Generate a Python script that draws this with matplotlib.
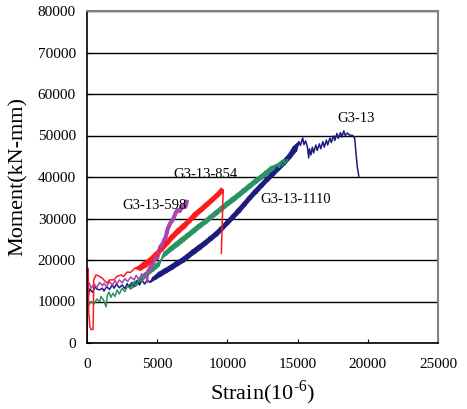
import matplotlib
matplotlib.use("Agg")
import matplotlib.pyplot as plt

# ---- data (strain in 1e-6, moment in kN-mm) ----
g13_x = [0, 30, 60, 100, 200, 400, 600, 710, 900, 1100, 1210, 1400, 1600, 1800, 1930,
         2100, 2300, 2500, 2700, 2860, 3000, 3200, 3400, 3570, 3750, 3900, 4100, 4290,
         4500, 4700, 4900, 5100, 5300, 5500, 5700, 5900, 6100, 6300, 6500, 6700, 6900,
         7100, 7300, 7500, 7700, 7900, 8100, 8300, 8500, 8700, 8900, 9100, 9300, 9500,
         9700, 9900, 10100, 10300, 10500, 10700, 10900, 11100, 11300, 11500, 11700,
         11900, 12100, 12300, 12500, 12700, 12900, 13100, 13300, 13500, 13700, 13900,
         14100, 14300, 14500, 14700, 14900, 15100, 15200, 15360, 15450, 15570, 15700,
         15790, 15850, 15950, 16050, 16140, 16300, 16400, 16550, 16650, 16800, 16900,
         17050, 17140, 17300, 17400, 17550, 17650, 17800, 17900, 18050, 18150, 18290,
         18400, 18550, 18700, 18930, 19070, 19150, 19250, 19360]
g13_y = [0, 9000, 12500, 11500, 13000, 12200, 13600, 13000, 12800, 13200, 12500, 13600,
         12900, 14000, 13200, 14200, 13300, 14000, 13100, 14300, 13400, 14600, 13700,
         15000, 14000, 15200, 14200, 15200, 14600, 15800, 15400, 17000, 16200, 17800,
         17000, 18600, 17800, 19500, 18700, 20300, 19500, 21300, 20600, 22400, 21600,
         23400, 22600, 24400, 23700, 25500, 24800, 26600, 25900, 27900, 27300, 29300,
         28700, 30700, 30100, 32200, 31500, 33700, 33100, 35300, 34700, 36800, 36100,
         38200, 37600, 39600, 39000, 41000, 40300, 42400, 41700, 43800, 43000, 45200,
         44500, 47300, 46200, 48500, 47600, 49400, 47800, 48700, 47200, 44600, 46800,
         45300, 47200, 45800, 47700, 46400, 48000, 46800, 48500, 47200, 48900, 47700,
         49400, 48300, 49900, 48800, 50500, 49300, 50700, 49600, 51100, 50000, 50600,
         50100, 50000, 49300, 46000, 42500, 40200]

g1110_x = [0, 30, 60, 100, 300, 500, 700, 900, 1000, 1200, 1360, 1450, 1570, 1700, 1850,
           2000, 2140, 2300, 2500, 2700, 2900, 3100, 3300, 3500, 3700, 3900, 4100, 4300,
           4500, 4700, 4900, 5100, 5300, 5500, 5700, 5900, 6100, 6300, 6500, 6700, 6900,
           7100, 7300, 7500, 7700, 7900, 8100, 8300, 8500, 8700, 8900, 9100, 9300, 9500,
           9700, 9900, 10100, 10300, 10500, 10700, 10900, 11100, 11300, 11500, 11700,
           11900, 12100, 12300, 12500, 12700, 12900, 13100, 13300, 13500, 13700, 13900,
           14100, 14300]
g1110_y = [0, 7000, 9600, 9000, 10000, 9400, 10600, 10000, 11200, 10200, 8700, 11500,
           12300, 11000, 12000, 11200, 12800, 11800, 13200, 12400, 13800, 13000, 14600,
           13800, 15400, 14800, 16800, 16200, 17900, 17300, 19000, 18400, 20200, 21900,
           21300, 23100, 22400, 24200, 23400, 25300, 24500, 26300, 25600, 27400, 26700,
           28500, 27800, 29500, 28800, 30600, 29900, 31700, 31000, 32800, 32100, 33900,
           33200, 35000, 34200, 36000, 35300, 37100, 36400, 38200, 37500, 39300, 38600,
           40300, 39600, 41400, 40700, 42500, 41800, 43000, 42300, 44000, 43200, 44300]

g854_x = [0, 20, 40, 60, 80, 100, 120, 150, 200, 300, 430, 450, 480, 640, 800, 1070,
          1250, 1430, 1600, 1930, 2100, 2430, 2600, 2860, 3100, 3400, 3600, 3800, 4000,
          4200, 4400, 4600, 4800, 5000, 5200, 5400, 5600, 5800, 6000, 6200, 6400, 6600,
          6800, 7000, 7200, 7400, 7600, 7800, 8000, 8200, 8400, 8600, 8800, 9000, 9200,
          9400, 9550, 9650, 9700, 9570]
g854_y = [0, 9000, 16000, 13000, 18000, 14000, 7000, 6800, 4000, 3200, 3300, 7000,
          15200, 16400, 16200, 15700, 15000, 14460, 15200, 15200, 16000, 16400, 16000,
          17100, 17000, 18000, 18300, 17500, 19400, 18300, 20300, 19400, 21600, 20800,
          22900, 22300, 24500, 23800, 26000, 25300, 27400, 26600, 28600, 27800, 29800,
          29200, 31300, 30500, 32400, 31700, 33600, 32900, 34800, 34100, 36000, 35400,
          37300, 36200, 36900, 21600]

g598_x = [0, 30, 60, 150, 300, 500, 700, 900, 1100, 1210, 1400, 1600, 1800, 2000, 2140,
          2300, 2500, 2700, 2900, 3100, 3360, 3500, 3700, 3900, 4070, 4200, 4300, 4400,
          4600, 4710, 4900, 5000, 5210, 5400, 5600, 5750, 5930, 6100, 6300, 6430, 6600,
          6800, 7000, 7100]
g598_y = [0, 8000, 13500, 14500, 13200, 14200, 13400, 14600, 13800, 14400, 13600, 14800,
          14000, 15000, 14300, 15200, 14500, 15500, 14800, 15900, 15200, 16300, 15300,
          16700, 15800, 16800, 14500, 17500, 18800, 19300, 21000, 20500, 23100, 24000,
          25500, 27500, 28900, 29600, 31200, 32000, 31800, 33000, 32800, 34000]

# (x, y, colour, strain range where the record is a dense sawtooth band, band line width)
series = [
    (g13_x, g13_y, '#1c1c7c', (4500, 15100), 0.8),
    (g1110_x, g1110_y, '#2a9263', (2900, 14300), 0.8),
    (g598_x, g598_y, '#a946b0', (4400, 7100), 3.0),
    (g854_x, g854_y, '#ff1a1a', (3400, 9700), 0.8),
]

labels = [
    ('G3-13', 17860, 54200),
    ('G3-13-854', 6140, 40500),
    ('G3-13-598', 2500, 33250),
    ('G3-13-1110', 12360, 34460),
]

plt.rcParams['font.family'] = ['Liberation Serif', 'DejaVu Serif']
plt.rcParams['mathtext.fontset'] = 'custom'
plt.rcParams['mathtext.rm'] = 'Liberation Serif'

fig = plt.figure(figsize=(4.67, 4.09), dpi=100)
ax = fig.add_axes([87 / 467, 66 / 409, 351 / 467, 332 / 409])

for xs, ys, c, (x0, x1), blw in series:
    ax.plot(xs, ys, color=c, lw=1.1)
    # contiguous run of points inside the dense band range
    i0 = next(i for i, v in enumerate(xs) if v >= x0)
    i1 = i0
    while i1 + 1 < len(xs) and x0 <= xs[i1 + 1] <= x1 and xs[i1 + 1] > xs[i1]:
        i1 += 1
    bx, by = xs[i0:i1 + 1], ys[i0:i1 + 1]
    # fill between the peaks and troughs of the sawtooth
    px = bx[0::2] + bx[1::2][::-1]
    py = by[0::2] + by[1::2][::-1]
    ax.fill(px, py, color=c, lw=0.8, ec=c)
    if blw > 1:
        ax.plot(bx, by, color=c, lw=blw)

for txt, x, y in labels:
    ax.text(x, y, txt, fontsize=10.5, ha='left', va='center')

ax.set_xlim(0, 25000)
ax.set_ylim(0, 80000)
ax.set_xticks(range(0, 25001, 5000))
ax.set_yticks(range(0, 80001, 10000))
ax.yaxis.grid(True, color='black', lw=1.0)
ax.set_axisbelow(True)
ax.tick_params(direction='in', length=3, labelsize=11)
ax.tick_params(axis='x', pad=11)
ax.tick_params(axis='y', pad=8)

for s in ['top', 'right']:
    ax.spines[s].set_color('#808080')
    ax.spines[s].set_linewidth(1.5)
for s in ['left', 'bottom']:
    ax.spines[s].set_color('black')
    ax.spines[s].set_linewidth(1.2)

ax.set_xlabel(r'Strain(10$^{\text{-6}}$)', fontsize=16, labelpad=5)
ax.set_ylabel('Moment(kN-mm)', fontsize=16, labelpad=7)

fig.savefig('out.png', dpi=100)
